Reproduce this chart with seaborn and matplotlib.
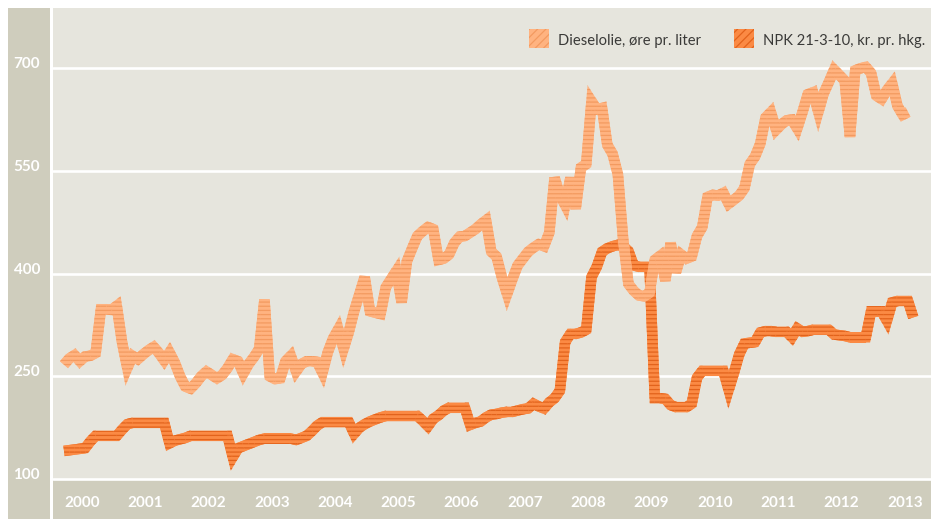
import numpy as np
import seaborn as sns
import matplotlib.pyplot as plt
from matplotlib.collections import PolyCollection
from matplotlib.patches import Rectangle

# monthly values from Jan 2000, one row per year
diesel = [
    267, 276, 281, 272, 279, 280, 284, 348, 348, 347, 353, 300,
    262, 280, 275, 282, 288, 293, 284, 273, 285, 270, 250, 235,
    232, 240, 250, 257, 252, 247, 252, 262, 275, 272, 254, 268,
    278, 290, 362, 250, 246, 247, 272, 280, 257, 268, 272, 272,
    271, 255, 285, 305, 319, 290, 315, 345, 370, 395, 345, 343,
    341, 380, 392, 404, 358, 418, 437, 455, 462, 468, 465, 420,
    422, 428, 445, 454, 455, 460, 465, 472, 478, 432, 425, 395,
    370, 392, 412, 422, 432, 438, 443, 440, 460, 540, 515, 500,
    540, 495, 555, 560, 652, 640, 642, 588, 575, 545, 450, 385,
    375, 368, 367, 372, 420, 426, 390, 445, 402, 428, 422, 425,
    455, 468, 512, 515, 514, 518, 502, 508, 514, 525, 560, 571,
    590, 628, 636, 610, 618, 624, 625, 612, 636, 662, 665, 636,
    663, 680, 698, 690, 682, 600, 697, 700, 702, 693, 660, 655,
    668, 678, 645, 632, 636,
]
npk = [
    141, 142, 143, 144, 145, 155, 163, 163, 163, 163, 163, 172,
    180, 182, 182, 182, 182, 182, 182, 182, 152, 156, 158, 160,
    163, 163, 163, 163, 163, 163, 163, 163, 132, 145, 148, 151,
    154, 157, 159, 159, 159, 159, 159, 159, 157, 160, 163, 170,
    178, 183, 183, 183, 183, 183, 183, 166, 175, 180, 184, 187,
    190, 192, 192, 192, 192, 192, 192, 192, 185, 177, 188, 193,
    200, 204, 204, 204, 204, 179, 182, 184, 190, 194, 195, 197,
    198, 198, 200, 202, 203, 210, 206, 203, 212, 218, 229, 300,
    312, 312, 314, 318, 395, 410, 432, 437, 440, 442, 440, 433,
    412, 410, 410, 410, 218, 218, 217, 208, 205, 205, 205, 210,
    248, 258, 258, 258, 258, 258, 230, 255, 282, 298, 299, 300,
    314, 316, 316, 315, 315, 315, 307, 320, 315, 316, 318, 318,
    318, 318, 311, 310, 309, 307, 307, 307, 307, 345, 345, 345,
    331, 358, 360, 360, 360, 336,
]
years = list(range(2000, 2014))
yticks = [100, 250, 400, 550, 700]
names = ["Dieselolie, øre pr. liter", "NPK 21-3-10, kr. pr. hkg."]

BG = "#e6e5dd"
PANEL = "#cfcdbd"
DIESEL, DIESEL_STRIPE = "#ffb380", "#f39a60"
NPK, NPK_STRIPE = "#fb8a44", "#e2631c"

W, H = 931, 519
LW_PX = 10.5

sns.set_theme(style="white")
plt.rcParams["font.family"] = ["Lato", "DejaVu Sans"]
plt.rcParams["hatch.linewidth"] = 0.9

fig = plt.figure(figsize=(W / 100, H / 100), dpi=100, facecolor="white")
fig.patches.append(Rectangle((8 / W, 0), 42 / W, (H - 8) / H, transform=fig.transFigure,
                             facecolor=PANEL, edgecolor="none", zorder=-1))
fig.patches.append(Rectangle((53 / W, 0), (W - 53) / W, (H - 480) / H, transform=fig.transFigure,
                             facecolor=PANEL, edgecolor="none", zorder=-1))

ax = fig.add_axes([53 / W, (H - 480) / H, (W - 53) / W, 472 / H])
ax.set_facecolor(BG)

t_d = 2000 + np.arange(len(diesel)) / 12
t_n = 2000 + np.arange(len(npk)) / 12

sns.lineplot(x=t_n, y=npk, ax=ax, color=NPK, linewidth=LW_PX * 0.72, estimator=None,
             sort=False, solid_joinstyle="bevel", solid_capstyle="butt", zorder=2, legend=False)
sns.lineplot(x=t_d, y=diesel, ax=ax, color=DIESEL, linewidth=LW_PX * 0.72, estimator=None,
             sort=False, solid_joinstyle="bevel", solid_capstyle="butt", zorder=4, legend=False)

ax.set_xlim(2000 - 11 / 63.3, 2000 + 867 / 63.3)
ax.set_ylim(98.5, 788.1)
ax.set_xticks([])
ax.set_yticks([])
ax.set_xlabel("")
ax.set_ylabel("")
for s in ax.spines.values():
    s.set_visible(False)
for v in yticks:
    ax.axhline(v, color="white", lw=1.9, zorder=1, clip_on=False)


def ribbon(t, v, face, stripe, z):
    # stroke outline (miter joins, limit 4) in pixels, filled and hatched
    pts = ax.transData.transform(np.column_stack([t, v]))
    h = LW_PX / 2
    d = np.diff(pts, axis=0)
    n = np.column_stack([-d[:, 1], d[:, 0]]) / np.hypot(d[:, 0], d[:, 1])[:, None]
    polys = []
    for i in range(len(d)):
        a, b = pts[i], pts[i + 1]
        polys.append([a + n[i] * h, b + n[i] * h, b - n[i] * h, a - n[i] * h])
    for i in range(1, len(pts) - 1):
        n1, n2 = n[i - 1], n[i]
        cross = d[i - 1, 0] * d[i, 1] - d[i - 1, 1] * d[i, 0]
        s = -1 if cross > 0 else 1
        m = n1 + n2
        mm = m @ m
        p = pts[i]
        if mm > 1e-9 and 2 / np.sqrt(mm) <= 4:
            polys.append([p, p + s * n1 * h, p + s * m * 2 * h / mm, p + s * n2 * h])
        else:
            polys.append([p, p + s * n1 * h, p + s * n2 * h])
    inv = ax.transData.inverted()
    coll = PolyCollection([inv.transform(np.array(q)) for q in polys], facecolors=face,
                          edgecolors=stripe, linewidths=0, hatch="----", zorder=z)
    ax.add_collection(coll, autolim=False)


ribbon(t_n, npk, NPK, NPK_STRIPE, 2.5)
ribbon(t_d, diesel, DIESEL, DIESEL_STRIPE, 4.5)

for v in yticks:
    ax.text(-13 / 878, v, str(v), transform=ax.get_yaxis_transform(), ha="right",
            va="baseline", color="white", fontsize=11, fontweight="bold", clip_on=False)
for yr in years:
    ax.text(yr, -27.3 / 472, str(yr), transform=ax.get_xaxis_transform(), ha="left",
            va="baseline", color="white", fontsize=11, fontweight="bold", clip_on=False)

# legend
for x0, name, fc, ec in [(529, names[0], DIESEL, DIESEL_STRIPE), (734, names[1], NPK, NPK_STRIPE)]:
    fig.patches.append(Rectangle((x0 / W, (H - 48.3) / H), 20 / W, 19 / H, transform=fig.transFigure,
                                 facecolor=fc, edgecolor=ec, linewidth=0, hatch="////", zorder=5))
    fig.text((x0 + 29) / W, (H - 45) / H, name, ha="left", va="baseline", fontsize=10.6,
             color="#3a3a38")

fig.savefig("out.png", dpi=100, facecolor="white")
